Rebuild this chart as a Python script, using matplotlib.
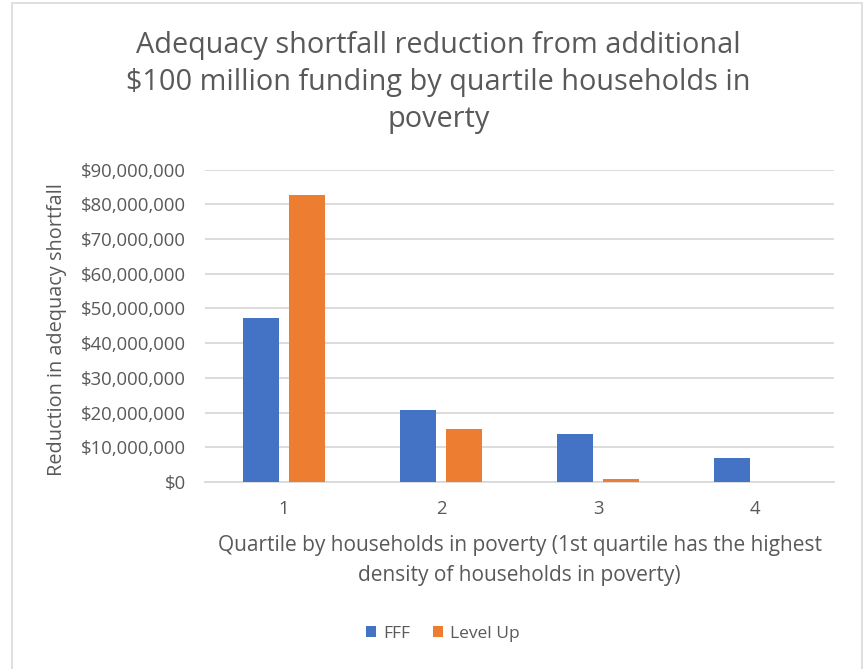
import matplotlib
matplotlib.use("Agg")
import matplotlib.pyplot as plt
from matplotlib.ticker import FuncFormatter
from matplotlib.patches import Rectangle
import numpy as np

categories = ["1", "2", "3", "4"]
fff = [47300000, 20700000, 13900000, 6800000]
level_up = [82700000, 15300000, 1000000, 0]
series_names = ["FFF", "Level Up"]
colors = ["#4472C4", "#ED7D31"]

plt.rcParams['font.family'] = ['Open Sans', 'DejaVu Sans']
text_color = "#595959"

fig = plt.figure(figsize=(8.64, 6.69), dpi=100)
ax = fig.add_axes([0.2378, 0.2795, 0.7269, 0.4671])

x = np.arange(len(categories))
w = 0.23
off = 0.146
ax.bar(x - off, fff, width=w, color=colors[0], label=series_names[0], zorder=3)
ax.bar(x + off, level_up, width=w, color=colors[1], label=series_names[1], zorder=3)

ax.set_xlim(-0.5, len(categories) - 0.5)
ax.set_ylim(0, 90000000)
ax.set_yticks(np.arange(0, 90000001, 10000000))
ax.yaxis.set_major_formatter(FuncFormatter(lambda v, p: "${:,.0f}".format(v)))
ax.set_xticks(x)
ax.set_xticklabels(categories)
ax.grid(axis='y', color='#d9d9d9', linewidth=1.3, zorder=0)
for s in ['top', 'right', 'left']:
    ax.spines[s].set_visible(False)
ax.spines['bottom'].set_color('#d9d9d9')
ax.spines['bottom'].set_linewidth(1.3)
ax.tick_params(axis='both', length=0, colors=text_color, labelsize=13.3)
ax.tick_params(axis='y', pad=14)
ax.tick_params(axis='x', pad=13)

fig.text(57/864, 1 - 330/669, "Reduction in adequacy shortfall", rotation=90,
         ha='center', va='center', color=text_color, fontsize=14.3)
fig.text(519.5/864, 1 - 560.5/669,
         "Quartile by households in poverty (1st quartile has the highest\ndensity of households in poverty)",
         ha='center', va='center', color=text_color, fontsize=15, linespacing=1.55)

fig.text(438.5/864, 1 - 82.5/669, "Adequacy shortfall reduction from additional\n$100 million funding by quartile households in\npoverty",
         ha='center', va='center', fontsize=20.8, color=text_color, linespacing=1.38)

leg = fig.legend(loc='center', bbox_to_anchor=(443/864, 1 - 634/669), ncol=2, frameon=False,
                 fontsize=12.5, handlelength=0.6, handleheight=0.6, handletextpad=0.4,
                 columnspacing=1.3)
for t in leg.get_texts():
    t.set_color(text_color)

fig.patches.append(Rectangle((12/864, -0.01), (862-12)/864, 1 - 2.5/669 + 0.01,
                             transform=fig.transFigure, fill=False,
                             edgecolor='#d9d9d9', linewidth=1.2))

fig.savefig("out.png", dpi=100)
